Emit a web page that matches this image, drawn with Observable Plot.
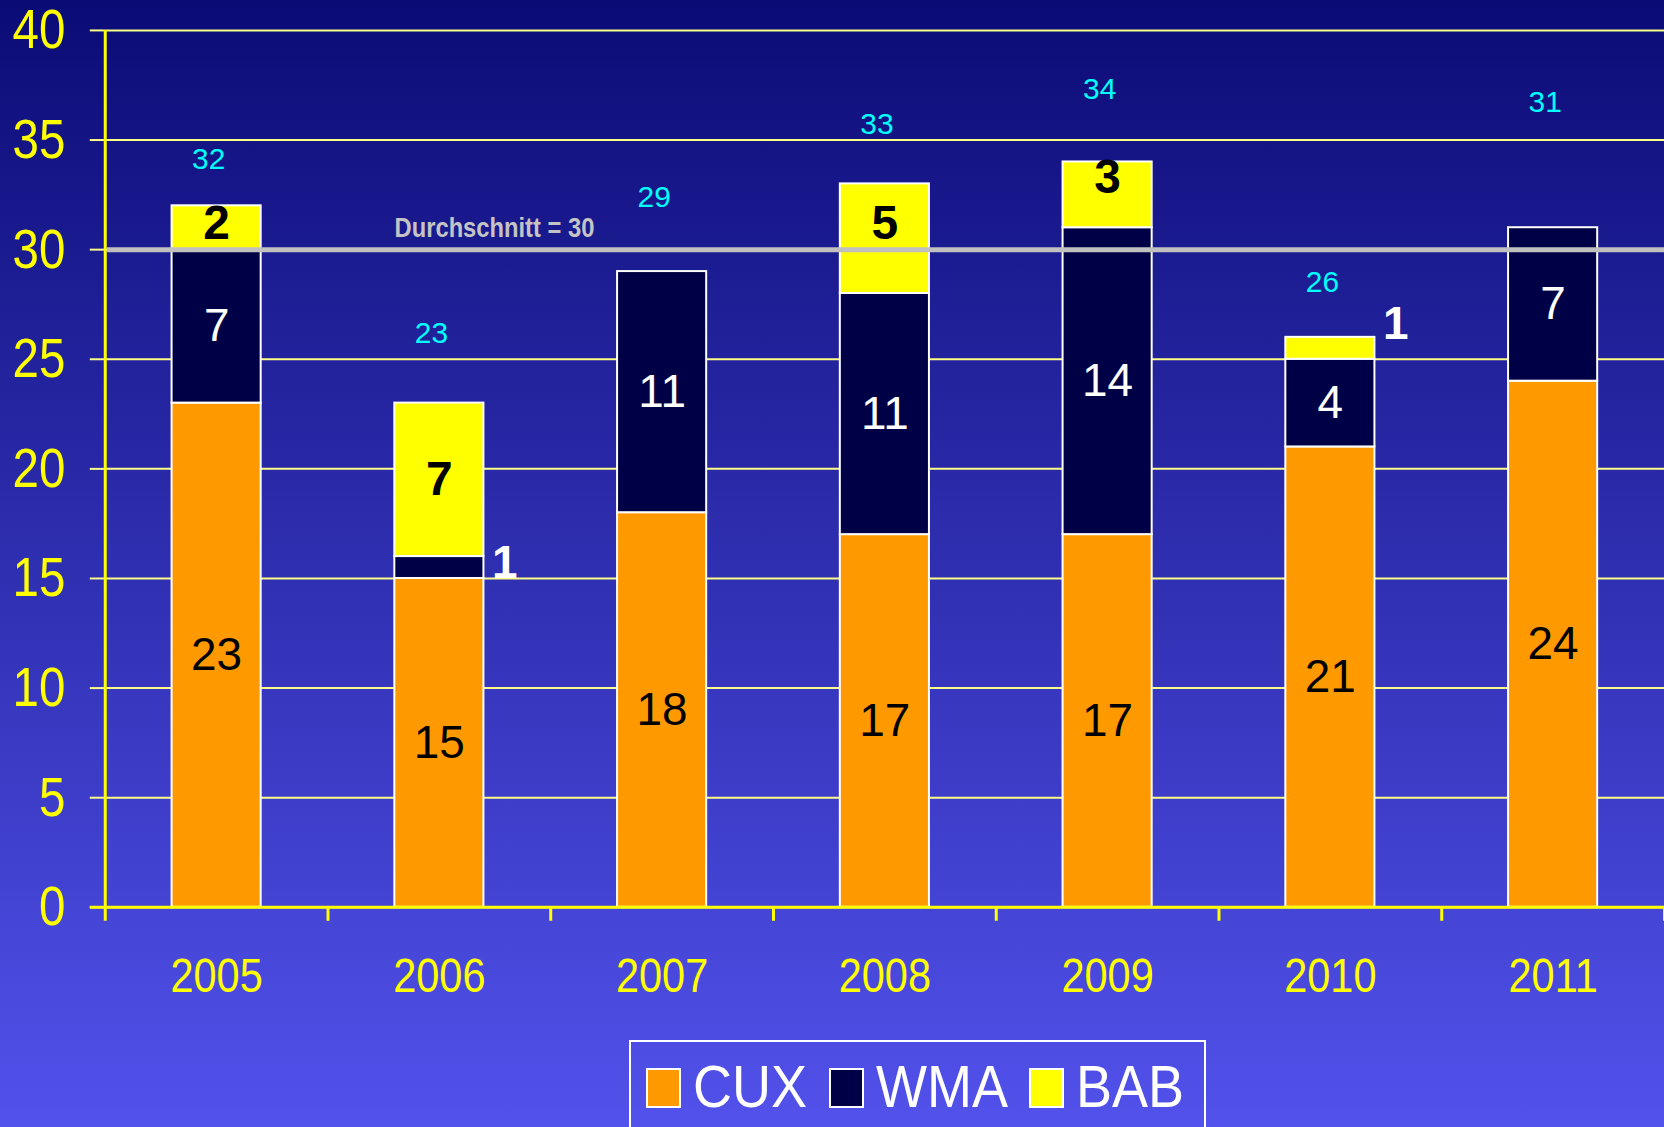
<!DOCTYPE html>
<html>
<head>
<meta charset="utf-8">
<script src="https://cdn.jsdelivr.net/npm/d3@7"></script>
<script src="https://cdn.jsdelivr.net/npm/@observablehq/plot@0.6"></script>
<style>
  html, body { margin: 0; padding: 0; width: 1664px; height: 1127px; overflow: hidden; }
  body { background: linear-gradient(to bottom, #0b0b76 0%, #5252ec 100%); position: relative; }
  #chart { position: absolute; left: 0; top: 0; }
  #chart svg { overflow: visible; }
  #legend { position: absolute; left: 629px; top: 1040px; width: 577px; height: 130px; border: 2px solid #fff;
            box-sizing: border-box; display: flex; align-items: flex-start; padding: 15px 0 0 15px; }
  .sw { flex: 0 0 auto; width: 35px; height: 40px; border: 2px solid #fff; box-sizing: border-box; margin-top: 11px; margin-right: 12px; }
  .lt { flex: 0 0 auto; display: inline-block; font-family: 'Liberation Sans', Arial, sans-serif; font-size: 60px; line-height: 60px;
        color: #fff; transform: scaleX(0.9); transform-origin: 0 0; white-space: nowrap; }
</style>
</head>
<body>
<div id="chart"></div>
<div id="legend"></div>
<script>
const years = ["2005", "2006", "2007", "2008", "2009", "2010", "2011"];
const cux = [23, 15, 18, 17, 17, 21, 24];
const wma = [7, 1, 11, 11, 14, 4, 7];
const bab = [2, 7, 0, 5, 3, 1, 0];
const totals = [32, 23, 29, 33, 34, 26, 31];
const totalLabelPos = [34.1, 26.2, 32.4, 35.7, 37.3, 28.5, 36.7];
const babLabelPos = [31.2, 19.5, 0, 31.2, 33.3, 0, 0];
const seriesNames = ["CUX", "WMA", "BAB"];
const seriesColors = ["#ff9900", "#000046", "#ffff00"];
const yTicks = [0, 5, 10, 15, 20, 25, 30, 35, 40];
const average = 30;
const averageLabel = "Durchschnitt = 30";
const outsideYears = ["2006", "2010"];
const outsideValues = [1, 1];
const outsidePos = [15.7, 26.6];

const NARROW = "'Liberation Sans Narrow', 'Liberation Sans', sans-serif";
const SANS = "'Liberation Sans', Arial, sans-serif";

const seriesArrays = [cux, wma, bab];
const rows = [];
years.forEach((yr, i) => {
  seriesArrays.forEach((arr, j) => {
    if (arr[i] > 0) rows.push({year: yr, series: seriesNames[j], value: arr[i]});
  });
});

const W = 1668, H = 1040, mL = 105, mR = 0, mT = 30, mB = 131;
const step = (W - mL - mR) / years.length;
const bw = step * 0.4;

const labelStyle = {
  CUX: {fill: "black", fontWeight: "normal", fontSize: 46},
  WMA: {fill: "white", fontWeight: "normal", fontSize: 46}
};

const chart = Plot.plot({
  width: W, height: H,
  marginLeft: mL, marginRight: mR, marginTop: mT, marginBottom: mB,
  style: {background: "transparent", fontFamily: SANS},
  x: {domain: years, paddingInner: 0.6, paddingOuter: 0.3, round: false, axis: null},
  y: {domain: [0, 40], axis: null},
  color: {domain: seriesNames, range: seriesColors},
  marks: [
    Plot.gridY(yTicks, {stroke: "#ffff88", strokeOpacity: 1, strokeWidth: 2}),
    Plot.axisY(yTicks, {anchor: "left", tickSize: 15, tickPadding: 25, stroke: "#ffff88", strokeWidth: 2,
      fill: "#ffff00", fontSize: 56, fontFamily: NARROW, label: null}),
    Plot.axisX({anchor: "bottom", tickSize: 0, tickPadding: 50, fill: "#ffff00", fontSize: 49,
      fontFamily: NARROW, label: null}),
    Plot.barY(rows, {x: "year", y: "value", fill: "series", order: seriesNames, stroke: "white", strokeWidth: 2}),
    Plot.ruleY([0], {stroke: "#ffff00", strokeWidth: 3, insetLeft: -15}),
    Plot.ruleX([years[0]], {x: d => d, dx: -step / 2, insetBottom: -14, stroke: "#ffff00", strokeWidth: 3}),
    Plot.ruleX(years, {x: d => d, dx: step / 2, insetTop: H - mT - mB, insetBottom: -14, stroke: "#ffff00", strokeWidth: 3}),
    Plot.ruleY([average], {stroke: "#c0c0c0", strokeWidth: 5, insetLeft: 2}),
    Plot.text([average], {y: d => d, text: () => averageLabel, frameAnchor: "left", textAnchor: "start",
      dx: 290, dy: -22, fill: "#c4c4c4", fontWeight: "bold", fontSize: 28, fontFamily: NARROW}),
    ...["CUX", "WMA"].map(s => Plot.text(rows, Plot.stackY({
      x: "year", y: "value", z: "series", order: seriesNames,
      text: d => (d.series === s && d.value >= 2) ? String(d.value) : "",
      fontFamily: SANS, ...labelStyle[s]
    }))),
    Plot.text(years, {x: d => d, y: (d, i) => babLabelPos[i], text: (d, i) => String(bab[i]),
      filter: (d, i) => bab[i] >= 2, fill: "black", fontWeight: "bold", fontSize: 48, fontFamily: SANS}),
    Plot.text(outsideYears, {x: d => d, y: (d, i) => outsidePos[i], text: (d, i) => String(outsideValues[i]),
      dx: bw / 2 + 8, textAnchor: "start", fill: "white", fontWeight: "bold", fontSize: 46, fontFamily: SANS}),
    Plot.text(years, {x: d => d, y: (d, i) => totalLabelPos[i], text: (d, i) => String(totals[i]),
      dx: -8, fill: "#00ffff", fontSize: 30, fontFamily: SANS})
  ]
});
document.getElementById("chart").appendChild(chart);

// condense the narrow-styled texts (reference uses a condensed face)
chart.querySelectorAll('[font-family*="Narrow"] text').forEach(t => {
  const len = t.getComputedTextLength();
  if (len > 0) {
    t.setAttribute("textLength", (len * 0.85).toFixed(1));
    t.setAttribute("lengthAdjust", "spacingAndGlyphs");
  }
});

const legend = document.getElementById("legend");
seriesNames.forEach((name, i) => {
  const sw = document.createElement("div");
  sw.className = "sw";
  sw.style.background = seriesColors[i];
  const lt = document.createElement("div");
  lt.className = "lt";
  lt.textContent = name;
  legend.appendChild(sw);
  legend.appendChild(lt);
  const w = lt.getBoundingClientRect().width; // scaled width
  const full = lt.offsetWidth;
  lt.style.marginRight = (w - full + 22) + "px";
});
</script>
</body>
</html>
